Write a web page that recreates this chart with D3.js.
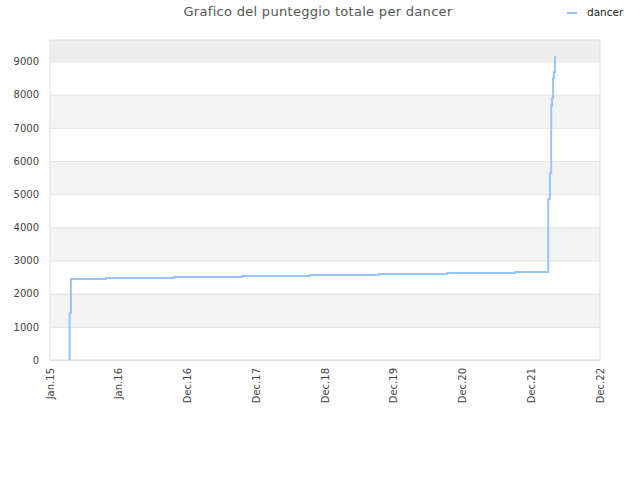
<!DOCTYPE html>
<html>
<head>
<meta charset="utf-8">
<script src="https://cdn.jsdelivr.net/npm/d3@7"></script>
<style>
  body { margin: 0; background: #fff; }
  svg { font-family: "DejaVu Sans", sans-serif; }
</style>
</head>
<body>
<svg id="chart" width="640" height="480"></svg>
<script>
(function () {
  'use strict';

  // punteggio cumulativo del dancer
  const dates = [
    '2015-04-15', '2015-04-15', '2015-04-16', '2015-04-22', '2015-04-22',
    '2015-10-24', '2015-10-24', '2016-10-21', '2016-10-21', '2017-10-17',
    '2017-10-17', '2018-10-12', '2018-10-12', '2019-10-14', '2019-10-14',
    '2020-10-10', '2020-10-10', '2021-10-06', '2021-10-06', '2022-03-30',
    '2022-03-30', '2022-04-08', '2022-04-08', '2022-04-15', '2022-04-15',
    '2022-04-20', '2022-04-20', '2022-04-25', '2022-04-25', '2022-04-29',
    '2022-04-29', '2022-05-05', '2022-05-05', '2022-05-10'
  ];
  const values = [
    0, 1265, 1415, 1420, 2440,
    2440, 2470, 2470, 2500, 2500,
    2530, 2530, 2560, 2560, 2590,
    2590, 2620, 2620, 2655, 2655,
    4850, 4850, 5630, 5630, 7680,
    7680, 7900, 7900, 8500, 8500,
    8680, 8680, 9130, 9160
  ];
  const tickDates = ['2015-01-01', '2016-01-01', '2016-12-31', '2017-12-31', '2018-12-31',
    '2019-12-31', '2020-12-30', '2021-12-30', '2022-12-30'];
  const tickLabels = ['Jan.15', 'Jan.16', 'Dec.16', 'Dec.17', 'Dec.18',
    'Dec.19', 'Dec.20', 'Dec.21', 'Dec.22'];
  const yTicks = [0, 1000, 2000, 3000, 4000, 5000, 6000, 7000, 8000, 9000];
  const seriesName = 'dancer';
  const title = 'Grafico del punteggio totale per dancer';

  const lineColor = 'rgb(150,198,245)';

  const parse = d3.utcParse('%Y-%m-%d');
  const data = dates.map((d, i) => ({ date: parse(d), value: values[i] }));

  const svg = d3.select('#chart');
  const margin = { top: 40, right: 40, bottom: 120, left: 50 };
  const width = 640 - margin.left - margin.right;
  const height = 480 - margin.top - margin.bottom;

  const x = d3.scaleUtc()
    .domain([parse(tickDates[0]), parse(tickDates[tickDates.length - 1])])
    .range([0, width]);
  const y = d3.scaleLinear().domain([0, 9650]).range([height, 0]);

  const g = svg.append('g').attr('transform', `translate(${margin.left},${margin.top})`);

  // bande alternate
  const yMax = y.domain()[1];
  g.selectAll('rect.band')
    .data(yTicks)
    .join('rect')
    .attr('class', 'band')
    .attr('x', 0)
    .attr('width', width)
    .attr('y', d => y(Math.min(d + 1000, yMax)))
    .attr('height', d => y(d) - y(Math.min(d + 1000, yMax)))
    .attr('fill', (d, i) => i === yTicks.length - 1 ? '#eeeeee' : (i % 2 ? '#f3f3f3' : '#ffffff'));

  // griglia orizzontale
  g.append('g')
    .call(d3.axisLeft(y).tickValues(yTicks).tickSize(-width).tickFormat(''))
    .call(a => a.select('.domain').remove())
    .call(a => a.selectAll('line').attr('stroke', '#e3e3e3'));

  g.append('rect')
    .attr('width', width)
    .attr('height', height)
    .attr('fill', 'none')
    .attr('stroke', '#dddddd');

  // asse y
  g.append('g')
    .call(d3.axisLeft(y).tickValues(yTicks).tickFormat(d3.format('d')).tickSize(0).tickPadding(11))
    .call(a => a.select('.domain').remove())
    .call(a => a.selectAll('text')
      .attr('font-size', 10)
      .attr('fill', '#444')
      .attr('font-family', 'DejaVu Sans'));

  // asse x
  g.append('g')
    .attr('transform', `translate(0,${height})`)
    .call(d3.axisBottom(x)
      .tickValues(tickDates.map(parse))
      .tickFormat((d, i) => tickLabels[i])
      .tickSize(0))
    .call(a => a.select('.domain').remove())
    .call(a => a.selectAll('text')
      .attr('font-size', 10)
      .attr('fill', '#444')
      .attr('font-family', 'DejaVu Sans')
      .attr('text-anchor', 'end')
      .attr('transform', 'rotate(-90)')
      .attr('x', -8)
      .attr('y', 0)
      .attr('dy', '0.3em'));

  const line = d3.line()
    .x(d => x(d.date))
    .y(d => y(d.value));

  g.append('path')
    .datum(data)
    .attr('fill', 'none')
    .attr('stroke', lineColor)
    .attr('stroke-width', 2)
    .attr('d', line);

  // titolo
  svg.append('text')
    .attr('x', 318)
    .attr('y', 16)
    .attr('text-anchor', 'middle')
    .attr('font-size', 13)
    .attr('letter-spacing', 0.3)
    .attr('fill', '#555')
    .text(title);

  // legenda
  svg.append('line')
    .attr('x1', 567).attr('x2', 577)
    .attr('y1', 13).attr('y2', 13)
    .attr('stroke', lineColor)
    .attr('stroke-width', 2);
  svg.append('text')
    .attr('x', 587)
    .attr('y', 16)
    .attr('font-size', 10.5)
    .attr('fill', '#222')
    .text(seriesName);
}());
</script>
</body>
</html>
